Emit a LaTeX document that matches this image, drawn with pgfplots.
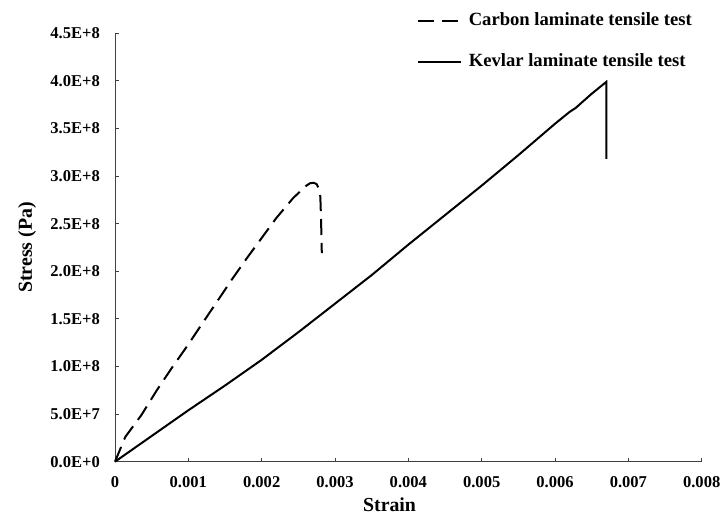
\documentclass[border=0pt]{standalone}
\usepackage{fontspec}
\setmainfont{Liberation Serif}
\usepackage{pgfplots}
\pgfplotsset{compat=1.18}
\begin{document}
\fontsize{16}{19}\selectfont\bfseries
\begin{tikzpicture}
\path[use as bounding box] (-115bp,-53.3bp) rectangle (610bp,461.7bp);
\begin{axis}[
  at={(0,0)}, anchor=south west,
  scale only axis, width=586.7bp, height=428.4bp,
  xmin=0, xmax=0.008, ymin=0, ymax=4.5e8,
  axis lines*=left,
  axis line style={line width=0.8bp, black!75},
  tick style={line width=0.8bp, black!75},
  tick align=inside, major tick length=4bp,
  scaled x ticks=false, scaled y ticks=false,
  xtick={0,0.001,0.002,0.003,0.004,0.005,0.006,0.007,0.008},
  xticklabels={0,0.001,0.002,0.003,0.004,0.005,0.006,0.007,0.008},
  ytick={0,0.5e8,1e8,1.5e8,2e8,2.5e8,3e8,3.5e8,4e8,4.5e8},
  yticklabels={0.0E+0,5.0E+7,1.0E+8,1.5E+8,2.0E+8,2.5E+8,3.0E+8,3.5E+8,4.0E+8,4.5E+8},
  ticklabel style={font=\fontsize{16.6}{19}\selectfont\bfseries, inner sep=0pt},
  xticklabel style={anchor=north, yshift=-14.3bp},
  yticklabel style={anchor=east, xshift=-15bp},
  xlabel={Strain}, ylabel={Stress (Pa)},
  label style={font=\fontsize{19.9}{23}\selectfont\bfseries},
  xlabel style={at={(axis description cs:0.468,-0.101)}, anchor=center},
  ylabel style={at={(axis description cs:-0.150,0.5)}, anchor=center},
  clip=false,
  legend cell align=left,
  legend image code/.code={\draw[#1] (0bp,0bp) -- (43bp,0bp);},
  legend style={draw=none, fill=none, inner sep=0pt,
    at={(axis description cs:0.514,1.0481)}, anchor=north west,
    nodes={inner sep=0pt, text height=12.5bp, text depth=3.5bp, font=\fontsize{18.7}{22}\selectfont\bfseries},
    row sep=25.3bp, /tikz/every odd column/.append style={column sep=7bp}},
]
\addplot[black, line width=2bp, dash pattern=on 16bp off 8bp] coordinates {
(0,0) (0.00014,0.26e8) (0.00036,0.49e8) (0.00057,0.75e8) (0.00077,0.98e8)
(0.00098,1.21e8) (0.00118,1.44e8) (0.00139,1.68e8) (0.00159,1.91e8)
(0.0018,2.14e8) (0.002,2.35e8) (0.0022,2.56e8) (0.00243,2.77e8)
(0.00261,2.90e8) (0.00266,2.925e8) (0.00271,2.93e8) (0.00275,2.915e8)
(0.00279,2.85e8) (0.0028,2.78e8) (0.00281,2.54e8) (0.00282,2.19e8)
};
\addlegendentry{Carbon laminate tensile test}
\addplot[black, line width=2bp] coordinates {
(0,0) (0.0005,0.27e8) (0.001,0.54e8) (0.0015,0.80e8) (0.002,1.07e8)
(0.0025,1.36e8) (0.003,1.66e8) (0.0035,1.96e8) (0.004,2.28e8)
(0.0045,2.59e8) (0.005,2.90e8) (0.0055,3.22e8) (0.006,3.55e8)
(0.0062,3.675e8) (0.00628,3.715e8) (0.0065,3.865e8) (0.0067,3.99e8)
(0.0067,3.18e8)
};
\addlegendentry{Kevlar laminate tensile test}
\end{axis}
\end{tikzpicture}
\end{document}
